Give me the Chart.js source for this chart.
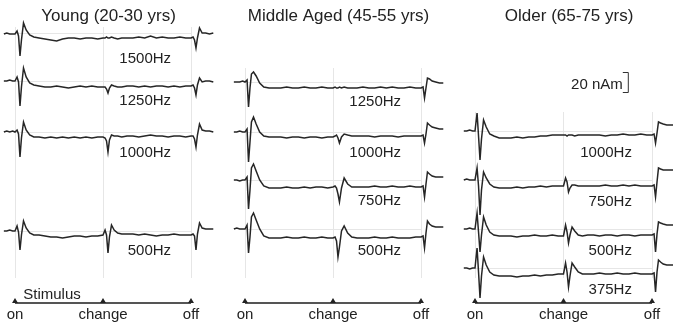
<!DOCTYPE html>
<html>
<head>
<meta charset="utf-8">
<script src="https://cdn.jsdelivr.net/npm/chart.js@4.4.0/dist/chart.umd.min.js"></script>
<style>
    body { margin: 0; background: #fff; }
    canvas { position: absolute; top: 0; }
</style>
</head>
<body>
<canvas id="young" width="224" height="324" style="left:0px"></canvas>
<canvas id="middle" width="225" height="324" style="left:224px"></canvas>
<canvas id="older" width="224" height="324" style="left:449px"></canvas>
<script>
// tempo em ms: 0 = on, 1500 = change, 3000 = off
const tempos = [-190, -140, -90, -40,
    0, 35, 60, 85, 110, 145, 190, 250, 320, 410,
    510, 610, 710, 810, 910, 1010, 1110, 1210, 1310, 1410,
    1500, 1535, 1560, 1585, 1610, 1645, 1690, 1750, 1820, 1910,
    2010, 2110, 2210, 2310, 2410, 2510, 2610, 2710, 2810, 2910,
    3000, 3035, 3060, 3085, 3110, 3145, 3190, 3250, 3315, 3380];

const marcos = [0, 1500, 3000];
const marcosRotulos = ['on', 'change', 'off'];

// respostas em nAm (relativas ao pre-estimulo)
const young1500 = [0, 1, 0, 0,
    0, 3, -2, -22, -6, 11, 4, -1, -3, -4,
    -5, -6, -7, -5, -4, -4, -5, -4, -4, -5,
    -4, -4, -3, -4, -4, -3, -4, -5, -4, -4,
    -4, -3, -4, -2, -4, -3, -4, -4, -3, -4,
    -4, -3, -6, -14, -4, 6, 1, 1, 0, 1];
const young1250 = [0, 0, 1, 0,
    0, 4, -1, -25, -6, 13, 4, -2, -4, -5,
    -6, -6, -5, -6, -7, -6, -5, -6, -5, -6,
    -6, -6, -8, -12, -7, -4, -5, -6, -6, -5,
    -5, -6, -5, -6, -5, -5, -6, -5, -6, -5,
    -5, -4, -7, -14, -4, 3, -1, 0, 0, -1];
const young1000 = [0, 1, 0, 1,
    0, 2, -2, -25, -6, 10, 2, -3, -5, -5,
    -6, -5, -6, -5, -6, -5, -6, -5, -6, -5,
    -5, -6, -9, -20, -8, -3, -4, -4, -5, -4,
    -4, -5, -4, -3, -4, -4, -5, -4, -4, -5,
    -4, -4, -7, -15, -3, 8, 2, 1, 1, 0];
const young500 = [0, 0, 1, 0,
    0, 5, -1, -19, -4, 10, 3, -2, -4, -4,
    -5, -6, -6, -7, -6, -5, -5, -6, -5, -5,
    -4, 1, -4, -22, -6, 6, 1, -2, -3, -3,
    -3, -4, -3, -4, -5, -4, -4, -3, -4, -4,
    -4, -3, -5, -19, -3, 8, 3, 2, 2, 2];

const middle1250 = [0, 0, 0, 1,
    0, 2, -25, -6, 8, 10, 6, -1, -5, -6,
    -6, -6, -5, -6, -6, -5, -6, -6, -5, -6,
    -6, -5, -6, -6, -5, -6, -5, -6, -6, -6,
    -5, -6, -6, -5, -6, -5, -6, -6, -5, -6,
    -6, -5, -16, -6, 4, 3, 1, 0, -1, -1];
const middle1000 = [0, 0, 1, 0,
    0, 3, -30, -10, 10, 15, 8, 0, -4, -5,
    -5, -5, -6, -5, -5, -6, -5, -5, -6, -5,
    -5, -4, -3, -6, -11, -5, -2, -3, -4, -4,
    -4, -4, -5, -4, -4, -4, -5, -4, -4, -4,
    -4, -3, -11, -2, 9, 7, 5, 4, 3, 3];
const middle750 = [0, 0, -1, 0,
    0, 3, -29, -10, 12, 16, 9, 0, -6, -8,
    -8, -8, -7, -8, -8, -7, -8, -7, -7, -8,
    -7, -6, -8, -14, -22, -8, 2, -4, -7, -7,
    -7, -7, -6, -7, -7, -6, -7, -7, -6, -7,
    -7, -6, -17, -4, 8, 6, 4, 3, 3, 3];
const middle500 = [0, 1, 0, 0,
    0, 4, -24, -8, 12, 16, 9, 0, -7, -9,
    -9, -9, -8, -9, -9, -8, -9, -9, -8, -9,
    -9, -8, -12, -28, -18, -2, 3, -4, -8, -9,
    -9, -9, -8, -9, -9, -8, -9, -9, -9, -8,
    -8, -7, -19, -4, 8, 5, 3, 2, 2, 2];

const older1000 = [0, 0, 1, 0,
    0, 18, -5, -29, -8, 11, 4, -3, -5, -7,
    -7, -7, -6, -7, -6, -6, -5, -5, -4, -4,
    -4, -4, -5, -4, -4, -4, -5, -4, -4, -4,
    -4, -4, -5, -4, -4, -3, -4, -4, -3, -4,
    -4, -3, -12, -2, 9, 8, 7, 6, 6, 6];
const older750 = [0, 1, 0, 0,
    0, 12, -6, -35, -10, 8, 2, -4, -7, -8,
    -8, -8, -7, -8, -7, -7, -6, -7, -6, -6,
    -6, 2, -2, -12, -8, -5, -5, -6, -6, -6,
    -6, -6, -5, -6, -6, -5, -6, -5, -6, -6,
    -6, -5, -17, -2, 12, 11, 10, 10, 10, 10];
const older500 = [0, 0, 1, 0,
    0, 16, -3, -23, -6, 12, 4, -3, -6, -7,
    -7, -7, -8, -7, -7, -6, -7, -7, -6, -7,
    -7, 4, -3, -14, -6, 2, -2, -6, -7, -6,
    -6, -7, -6, -6, -7, -6, -6, -7, -6, -6,
    -6, -5, -23, -5, 7, 6, 5, 4, 4, 4];
const older375 = [0, 0, -1, 0,
    0, 20, -4, -30, -8, 11, 3, -4, -7, -8,
    -8, -8, -9, -8, -8, -7, -8, -7, -7, -6,
    -6, 5, -4, -19, -8, 5, 1, -4, -6, -6,
    -6, -5, -6, -6, -5, -6, -6, -5, -6, -6,
    -6, -5, -24, -4, 8, 6, 4, 3, 3, 3];

const youngRotulos = ['1500Hz', '1250Hz', '1000Hz', '500Hz'];
const middleRotulos = ['1250Hz', '1000Hz', '750Hz', '500Hz'];
const olderRotulos = ['1000Hz', '750Hz', '500Hz', '375Hz'];

const escalaNAm = 20;

const fonte = '"Liberation Sans", Arial, sans-serif';
const corTraco = '#262626';
const corGrade = '#e6e6e6';
const nivelEstimulo = -25;

// textos: titulo, frequencias, "Stimulus", barra de escala, marcadores
const textos = {
    id: 'textos',
    afterDraw(chart, args, opts) {
        const ctx = chart.ctx;
        const x = chart.scales.x;
        const y = chart.scales.y;
        ctx.save();
        ctx.fillStyle = '#222';
        ctx.textBaseline = 'alphabetic';

        ctx.font = '17px ' + fonte;
        ctx.textAlign = 'center';
        let meio = (x.getPixelForValue(tempos[0]) + x.getPixelForValue(tempos[tempos.length - 1])) / 2;
        ctx.fillText(opts.titulo, meio, 21);

        ctx.font = '15px ' + fonte;
        ctx.textAlign = 'right';
        opts.rotulos.forEach((r, i) => {
            ctx.fillText(r, x.getPixelForValue(2660), y.getPixelForValue(opts.niveis[i] - opts.quedas[i]));
        });

        // triangulos do estimulo
        let ye = y.getPixelForValue(nivelEstimulo);
        marcos.forEach(m => {
            let px = x.getPixelForValue(m);
            ctx.beginPath();
            ctx.moveTo(px - 3, ye);
            ctx.lineTo(px + 3, ye);
            ctx.lineTo(px, ye - 5);
            ctx.closePath();
            ctx.fill();
        });

        if (opts.estimulo) {
            ctx.textAlign = 'left';
            ctx.fillText('Stimulus', x.getPixelForValue(140), y.getPixelForValue(-21));
        }

        if (opts.escala) {
            let bx = x.getPixelForValue(2590);
            let y0 = y.getPixelForValue(opts.escala);
            let y1 = y.getPixelForValue(opts.escala + escalaNAm);
            ctx.textAlign = 'right';
            ctx.fillText(escalaNAm + ' nAm', bx - 5, y0 - 3);
            ctx.strokeStyle = '#333';
            ctx.lineWidth = 1;
            ctx.beginPath();
            ctx.moveTo(bx - 5, y1 + 0.5);
            ctx.lineTo(bx + 0.5, y1 + 0.5);
            ctx.lineTo(bx + 0.5, y0 + 0.5);
            ctx.lineTo(bx - 5, y0 + 0.5);
            ctx.stroke();
        }
        ctx.restore();
    }
};

function painel(id, titulo, tracos, rotulos, niveis, quedas, topo, esq, dir, extras) {
    let datasets = tracos.map((valores, i) => ({
        data: tempos.map((t, j) => ({ x: t, y: niveis[i] + valores[j] })),
        borderColor: corTraco,
        borderWidth: 1.5,
        pointRadius: 0,
        tension: 0,
        clip: false
    }));

    // barra do estimulo
    datasets.push({
        data: [{ x: marcos[0], y: nivelEstimulo }, { x: marcos[2], y: nivelEstimulo }],
        borderColor: '#555',
        borderWidth: 2,
        pointRadius: 0,
        clip: false
    });

    new Chart(document.getElementById(id), {
        type: 'line',
        data: { datasets: datasets },
        plugins: [textos],
        options: {
            responsive: false,
            animation: false,
            devicePixelRatio: 1,
            layout: { padding: { left: esq, right: dir, top: topo, bottom: 0 } },
            plugins: {
                legend: { display: false },
                tooltip: { enabled: false },
                textos: Object.assign({ titulo: titulo, rotulos: rotulos, niveis: niveis, quedas: quedas }, extras)
            },
            scales: {
                x: {
                    type: 'linear',
                    afterDataLimits: s => { s.min = marcos[0]; s.max = marcos[2]; },
                    afterBuildTicks: s => { s.ticks = marcos.map(v => ({ value: v })); },
                    afterFit: s => { s.height = 46; s.paddingLeft = 0; s.paddingRight = 0; },
                    ticks: {
                        autoSkip: false,
                        maxRotation: 0,
                        padding: 28,
                        color: '#222',
                        font: { size: 15, family: fonte },
                        callback: (v, i) => marcosRotulos[i]
                    },
                    grid: { color: corGrade, drawTicks: false },
                    border: { display: false }
                },
                y: {
                    type: 'linear',
                    min: 0,
                    max: 278 - topo,
                    afterBuildTicks: s => { s.ticks = niveis.map(v => ({ value: v })); },
                    afterFit: s => { s.width = 0; s.paddingTop = 0; s.paddingBottom = 0; },
                    ticks: { display: false },
                    grid: { color: corGrade, drawTicks: false },
                    border: { display: false }
                }
            }
        }
    });
}

// Gráfico: Young
painel('young', 'Young (20-30 yrs)', [young1500, young1250, young1000, young500],
    youngRotulos, [244, 197, 146, 47], [29, 24, 25, 24], 27, 15, 33, { estimulo: true });

// Gráfico: Middle Aged
painel('middle', 'Middle Aged (45-55 yrs)', [middle1250, middle1000, middle750, middle500],
    middleRotulos, [196, 146, 98, 49], [24, 25, 25, 26], 68, 21, 28, {});

// Gráfico: Older
painel('older', 'Older (65-75 yrs)', [older1000, older750, older500, older375],
    olderRotulos, [147, 98, 49, 10], [26, 26, 26, 26], 112, 26, 21, { escala: 186 });
</script>
</body>
</html>
